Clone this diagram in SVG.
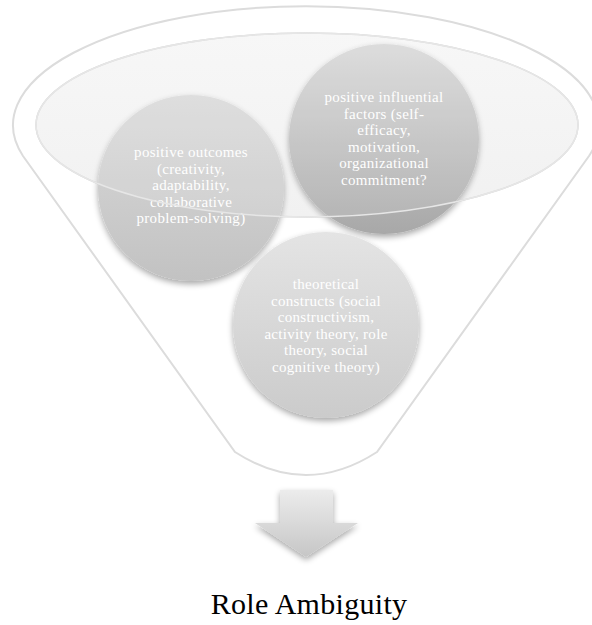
<svg xmlns="http://www.w3.org/2000/svg" width="592" height="625" viewBox="0 0 592 625">
<defs>
<style>
.rim{fill:none;stroke:#dcdcdc;stroke-width:2}
.lbl{font-family:"Liberation Serif","Times New Roman",serif;font-size:15px;letter-spacing:0.3px;fill:#ffffff;text-anchor:middle}
.title{font-family:"Liberation Serif","Times New Roman",serif;font-size:30px;letter-spacing:0.3px;fill:#000000;text-anchor:middle}
</style>
<linearGradient id="gL" x1="0" y1="0" x2="0" y2="1">
<stop offset="0" stop-color="#dadada"/><stop offset="1" stop-color="#c2c2c2"/>
</linearGradient>
<linearGradient id="gR" x1="0" y1="0" x2="0" y2="1">
<stop offset="0" stop-color="#d8d8d8"/><stop offset="1" stop-color="#a8a8a8"/>
</linearGradient>
<linearGradient id="gB" x1="0" y1="0" x2="0" y2="1">
<stop offset="0" stop-color="#e4e4e4"/><stop offset="1" stop-color="#cbcbcb"/>
</linearGradient>
<linearGradient id="gA" x1="0" y1="0" x2="0" y2="1">
<stop offset="0" stop-color="#ececec"/><stop offset="1" stop-color="#c6c6c6"/>
</linearGradient>
<linearGradient id="gE" x1="0" y1="0" x2="0" y2="1">
<stop offset="0" stop-color="#f6f6f6"/><stop offset="1" stop-color="#f0f0f0"/>
</linearGradient>
<filter id="sh" x="-20%" y="-20%" width="140%" height="150%">
<feGaussianBlur in="SourceAlpha" stdDeviation="3"/>
<feOffset dx="0" dy="3" result="b"/>
<feComponentTransfer><feFuncA type="linear" slope="0.35"/></feComponentTransfer>
<feMerge><feMergeNode/><feMergeNode in="SourceGraphic"/></feMerge>
</filter>
</defs>
<rect width="592" height="625" fill="#ffffff"/>
<g id="funnel">
<path class="rim" d="M 23,156 A 293 119 0 1 1 589,156 L 377,452 Q 306,498 235,452 Z"/>
<ellipse cx="307" cy="125" rx="271" ry="92" fill="url(#gE)" stroke="#d4d4d4" stroke-width="1.5"/>
</g>
<g id="node-outcomes">
<circle cx="191" cy="188" r="93" fill="url(#gL)" filter="url(#sh)"/>
<text class="lbl" x="191" y="157">positive outcomes</text>
<text class="lbl" x="191" y="173.5">(creativity,</text>
<text class="lbl" x="191" y="190">adaptability,</text>
<text class="lbl" x="191" y="206.5">collaborative</text>
<text class="lbl" x="191" y="223">problem-solving)</text>
</g>
<g id="node-factors">
<circle cx="384" cy="139" r="95" fill="url(#gR)" filter="url(#sh)"/>
<text class="lbl" x="384" y="102">positive influential</text>
<text class="lbl" x="384" y="118.5">factors (self-</text>
<text class="lbl" x="384" y="135">efficacy,</text>
<text class="lbl" x="384" y="151.5">motivation,</text>
<text class="lbl" x="384" y="168">organizational</text>
<text class="lbl" x="384" y="184.5">commitment?</text>
</g>
<g id="glass">
<ellipse cx="307" cy="125" rx="271" ry="92" fill="#ffffff" fill-opacity="0.12" stroke="#e6e6e6" stroke-width="1.5"/>
</g>
<g id="node-constructs">
<circle cx="326" cy="325" r="93" fill="url(#gB)" filter="url(#sh)"/>
<text class="lbl" x="326" y="289">theoretical</text>
<text class="lbl" x="326" y="305.5">constructs (social</text>
<text class="lbl" x="326" y="322">constructivism,</text>
<text class="lbl" x="326" y="338.5">activity theory, role</text>
<text class="lbl" x="326" y="355">theory, social</text>
<text class="lbl" x="326" y="371.5">cognitive theory)</text>
</g>
<g id="connectors">
<path d="M 280,490 L 333,490 L 333,523 L 358,523 L 306,557 L 255,523 L 280,523 Z" fill="url(#gA)" filter="url(#sh)"/>
</g>
<g id="node-result">
<text class="title" x="309" y="614">Role Ambiguity</text>
</g>
</svg>
